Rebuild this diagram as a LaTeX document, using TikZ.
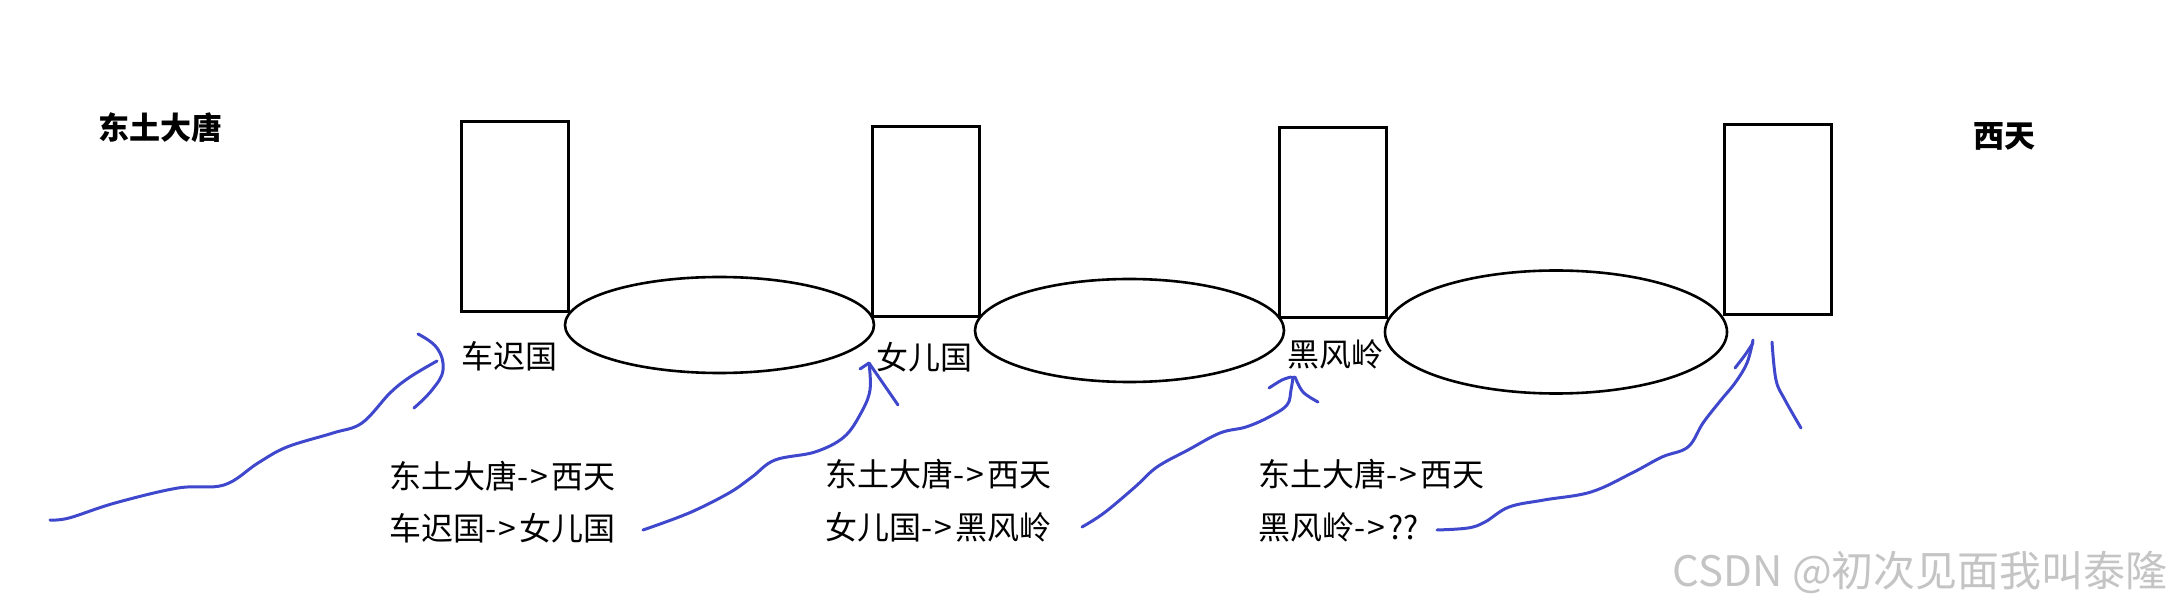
\documentclass[tikz,border=0pt]{standalone}
\usepackage{fontspec}
\usetikzlibrary{shapes.geometric}
\newfontfamily\cjk{Noto Sans CJK SC}
\definecolor{pen}{HTML}{3F48CC}
\definecolor{wm}{HTML}{C4C4C4}
\newcommand{\arrowtxt}{-\kern2pt>\kern3pt}
\begin{document}
\begin{tikzpicture}[x=1pt,y=-1pt,
  gate/.style={draw,line width=3pt,minimum width=107pt,minimum height=190pt,inner sep=0pt},
  lake/.style={draw,ellipse,line width=2.6pt,inner sep=0pt},
  lbl/.style={anchor=west,inner sep=0pt,font=\cjk\fontsize{32}{32}\selectfont},
  blbl/.style={anchor=west,inner sep=0pt,font=\cjk\bfseries\fontsize{31}{31}\selectfont},
  stroke/.style={draw=pen,line width=3pt,line cap=round,line join=round}]
\useasboundingbox (0,0) rectangle (2172,609);
% gates
\node[gate] (g1) at (514.5,217) {};
\node[gate] (g2) at (925.5,222) {};
\node[gate] (g3) at (1332.5,223) {};
\node[gate] (g4) at (1777.5,219.5) {};
% lakes
\node[lake,minimum width=309pt,minimum height=96pt] (e1) at (719.5,325) {};
\node[lake,minimum width=309pt,minimum height=103pt] (e2) at (1129.5,330.5) {};
\node[lake,minimum width=342pt,minimum height=123pt] (e3) at (1556,332) {};
% labels
\node[blbl] (start) at (98,128) {东土大唐};
\node[blbl] (end) at (1973,136) {西天};
\node[lbl] (l1) at (461,356) {车迟国};
\node[lbl] (l2) at (876,357) {女儿国};
\node[lbl] (l3) at (1287,354) {黑风岭};
\node[lbl] (a1) at (389,476) {东土大唐\arrowtxt 西天};
\node[lbl] (b1) at (389,528) {车迟国\arrowtxt 女儿国};
\node[lbl] (a2) at (825,474) {东土大唐\arrowtxt 西天};
\node[lbl] (b2) at (825,527) {女儿国\arrowtxt 黑风岭};
\node[lbl] (a3) at (1258,474) {东土大唐\arrowtxt 西天};
\node[lbl] (b3) at (1258,527) {黑风岭\arrowtxt ??};
% watermark
\node[anchor=east,inner sep=0pt,text=wm,font=\cjk\fontsize{42}{42}\selectfont] (wmk) at (2168,572) {CSDN @初次见面我叫泰隆};
% hand-drawn strokes
\draw[stroke] plot[smooth,tension=0.6] coordinates {(50,520) (69,518) (115,503) (178,488) (224,485) (258,463) (287,447) (333,433) (362,423) (390,393) (410,377) (437,361)};
\draw[stroke] plot[smooth,tension=0.7] coordinates {(418,334) (437,348) (443,370) (432,390) (414,408)};
\draw[stroke] plot[smooth,tension=0.6] coordinates {(643,530) (689,513) (729,493) (752,477) (775,460) (815,452) (844,437) (861,413) (870,390) (869,363)};
\draw[stroke] (860,369) -- (869,363) -- (898,405);
\draw[stroke] plot[smooth,tension=0.6] coordinates {(1082,527) (1104,513) (1135,487) (1157,467) (1188,450) (1220,433) (1246,427) (1269,417) (1287,405) (1291,390) (1293,377)};
\draw[stroke] plot[smooth,tension=0.6] coordinates {(1269,388) (1282,380) (1291,377)};
\draw[stroke] plot[smooth,tension=0.6] coordinates {(1295,377) (1303,392) (1318,402)};
\draw[stroke] plot[smooth,tension=0.6] coordinates {(1437,530) (1468,528) (1485,522) (1509,507) (1544,500) (1591,492) (1632,473) (1662,457) (1688,447) (1703,423) (1721,400) (1735,383) (1747,363) (1753,340)};
\draw[stroke] plot[smooth,tension=0.6] coordinates {(1735,368) (1745,355) (1753,343)};
\draw[stroke] plot[smooth,tension=0.6] coordinates {(1772,342) (1776,380) (1785,400) (1801,428)};
\end{tikzpicture}
\end{document}
